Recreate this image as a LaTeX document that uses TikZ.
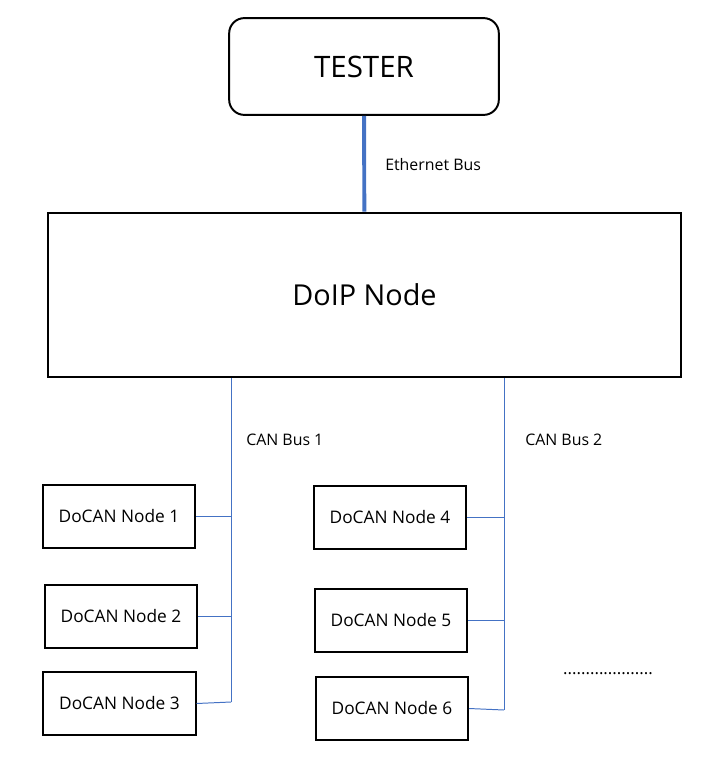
\documentclass[tikz,border=0pt]{standalone}
\usepackage{fontspec}
\setmainfont{Open Sans}
\usepackage{tikz}

\definecolor{busblue}{HTML}{4472C4}

\begin{document}
\begin{tikzpicture}[x=0.025cm, y=-0.025cm]
	\tikzstyle{ecu} = [draw, line width=1.4pt, inner sep=0pt, minimum width=3.8cm, minimum height=1.58cm, font=\fontsize{12.3}{14}\selectfont]
	\tikzstyle{canbus} = [draw=busblue, line width=0.7pt]
	\tikzstyle{buslabel} = [inner sep=0pt, anchor=west, font=\fontsize{11.3}{13}\selectfont]
	\useasboundingbox (0,0) rectangle (724,758);
	\node (tester) [draw, line width=1.4pt, rounded corners=0.38cm, minimum width=6.74cm, minimum height=2.42cm, inner sep=0pt, font=\fontsize{21}{25}\selectfont] at (364, 66.5) {TESTER};
	\node (doip) [draw, line width=1.4pt, minimum width=15.8cm, minimum height=4.12cm, inner sep=0pt, font=\fontsize{20.5}{24}\selectfont] at (364.5, 295) {DoIP Node};
	\node (n1) [ecu] at (119, 516.5) {DoCAN Node 1};
	\node (n2) [ecu] at (121, 616.5) {DoCAN Node 2};
	\node (n3) [ecu] at (119.5, 703.5) {DoCAN Node 3};
	\node (n4) [ecu] at (390, 517.5) {DoCAN Node 4};
	\node (n5) [ecu] at (391, 620.5) {DoCAN Node 5};
	\node (n6) [ecu] at (392, 708.5) {DoCAN Node 6};
	\node (eth) [buslabel] at (385, 165) {Ethernet Bus};
	\node (can1) [buslabel] at (246, 440) {CAN Bus 1};
	\node (can2) [buslabel] at (525, 440) {CAN Bus 2};
	\node (more) [inner sep=0pt, font=\fontsize{12}{14}\selectfont] at (608, 674) {....................};
	\coordinate (b1) at (231, 702);
	\coordinate (b2) at (504, 710);
	\draw [draw=busblue, line width=2.8pt] (tester) -- (doip);
	\draw [canbus] (doip.south -| b1) -- (b1);
	\draw [canbus] (doip.south -| b2) -- (b2);
	\draw [canbus] (n1.east) -- (n1.east -| b1);
	\draw [canbus] (n2.east) -- (n2.east -| b1);
	\draw [canbus] (n3.east) -- (b1);
	\draw [canbus] (n4.east) -- (n4.east -| b2);
	\draw [canbus] (n5.east) -- (n5.east -| b2);
	\draw [canbus] (n6.east) -- (b2);
\end{tikzpicture}
\end{document}
